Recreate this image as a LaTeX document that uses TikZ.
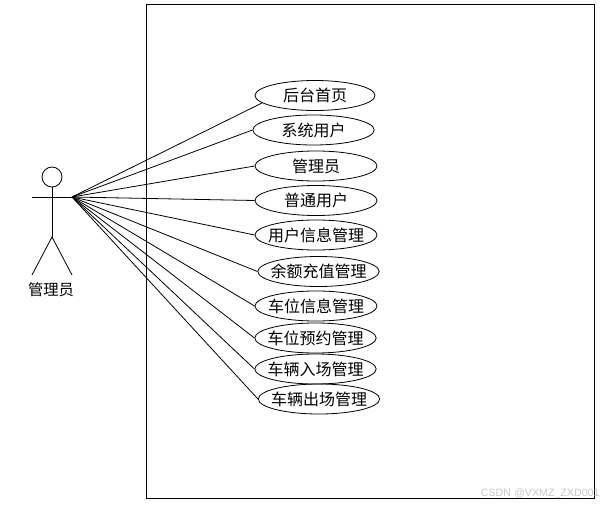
\documentclass[tikz,border=0pt]{standalone}
\usepackage{fontspec}
\setmainfont{Liberation Sans}
\newfontfamily\cjk{Noto Sans CJK SC}
\usetikzlibrary{shapes.geometric}
\tikzset{
  usecase/.style={draw,ellipse,inner xsep=-8pt,inner ysep=-4pt,minimum height=22.5pt,font=\cjk\fontsize{12}{14}\selectfont},
  actorlabel/.style={inner sep=0pt,font=\cjk\fontsize{11.5}{14}\selectfont},
  mark text/.style={inner sep=0pt,text=black!22,font=\fontsize{8}{10}\selectfont}
}
\begin{document}
\begin{tikzpicture}[x=0.75pt,y=-0.75pt,line width=0.6pt]
\useasboundingbox (0,0) rectangle (605,506);
\draw (146,4) rectangle (594,498);
\node[draw,circle,minimum size=15pt,inner sep=0pt] (head) at (52,177) {};
\coordinate (hand) at (72,197);
\coordinate (handl) at (32,197);
\coordinate (hip) at (52,237);
\coordinate (footl) at (32,275);
\coordinate (footr) at (72,275);
\draw (handl) -- (hand);
\draw (head) -- (hip);
\draw (footl) -- (hip) -- (footr);
\node[actorlabel] (actor) at (51,290) {管理员};
\node[usecase,minimum width=90pt] (home) at (315,95.5) {后台首页};
\node[usecase,minimum width=91pt] (sys) at (313.5,130) {系统用户};
\node[usecase,minimum width=91.5pt] (admin) at (316,166) {管理员};
\node[usecase,minimum width=91.5pt] (user) at (316,200.5) {普通用户};
\node[usecase,minimum width=91.5pt] (info) at (316,235) {用户信息管理};
\node[usecase,minimum width=91pt] (recharge) at (318.5,271.5) {余额充值管理};
\node[usecase,minimum width=91.5pt] (space) at (316,306) {车位信息管理};
\node[usecase,minimum width=91pt] (booking) at (315.5,338) {车位预约管理};
\node[usecase,minimum width=91pt] (entry) at (315.5,369) {车辆入场管理};
\node[usecase,minimum width=91pt] (leave) at (319,399) {车辆出场管理};
\draw (hand) -- (home.188);
\draw (hand) -- (sys.west);
\draw (hand) -- (admin.west);
\draw (hand) -- (user.west);
\draw (hand) -- (info.west);
\draw (hand) -- (recharge.west);
\draw (hand) -- (space.west);
\draw (hand) -- (booking.west);
\draw (hand) -- (entry.west);
\draw (hand) -- (leave.west);
\node[mark text,anchor=east] (mark) at (600,494) {CSDN @VXMZ\_ZXD001};
\end{tikzpicture}
\end{document}
